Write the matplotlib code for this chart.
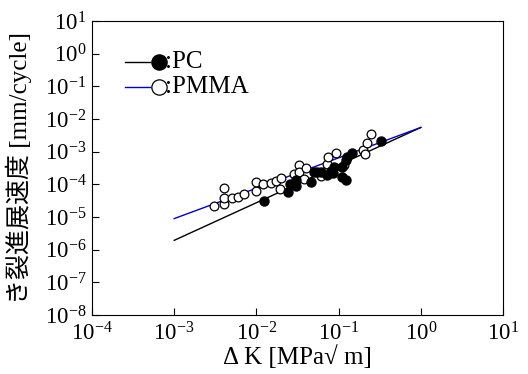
import numpy as np
import matplotlib
matplotlib.use("Agg")
import matplotlib.pyplot as plt
from matplotlib.ticker import FixedLocator, FuncFormatter, NullLocator

plt.rcParams['font.family'] = ['Liberation Serif', 'Noto Sans CJK JP']
plt.rcParams['mathtext.fontset'] = 'custom'
plt.rcParams['mathtext.rm'] = 'Liberation Serif'
plt.rcParams['mathtext.it'] = 'Liberation Serif:italic'

# PC (filled) data: dK [MPa m^0.5], da/dN [mm/cycle]
pc_dk = [0.0125, 0.0241, 0.0255, 0.0299, 0.0299, 0.0465, 0.050, 0.055, 0.0603,
         0.0715, 0.0851, 0.0877, 0.111, 0.122, 0.111, 0.122, 0.147, 0.128,
         0.080, 0.325]
pc_rate = [3.08e-5, 5.8e-5, 1.05e-4, 9.1e-5, 1.39e-4, 1.18e-4, 2.38e-4, 2.38e-4, 2.38e-4,
           1.89e-4, 2.22e-4, 3.4e-4, 1.67e-4, 1.33e-4, 3.4e-4, 5.45e-4, 9.1e-4, 6.9e-4,
           2.6e-4, 2.13e-3]

# PMMA (open) data
pmma_dk = [0.00301, 0.00399, 0.00399, 0.00399, 0.00506, 0.00598, 0.0070, 0.0100,
           0.0100, 0.0119, 0.0151, 0.0171, 0.0200, 0.0192, 0.0290, 0.0328, 0.0328,
           0.0396, 0.0378, 0.0603, 0.0693, 0.0728, 0.0748, 0.0938, 0.116, 0.200,
           0.210, 0.224, 0.245]
pmma_rate = [2.16e-5, 2.56e-5, 3.8e-5, 7.7e-5, 3.9e-5, 4.0e-5, 4.9e-5, 6.1e-5,
             1.18e-4, 1.0e-4, 1.10e-4, 1.30e-4, 1.56e-4, 7.4e-5, 2.13e-4, 3.83e-4, 2.38e-4,
             3.16e-4, 1.50e-4, 1.76e-4, 2.56e-4, 4.3e-4, 6.9e-4, 9.4e-4, 3.83e-4, 1.16e-3,
             8.3e-4, 1.85e-3, 3.42e-3]

# Paris law fits: rate = C * dK^m, drawn from dK=1e-3 to 1
fit_range = [1e-3, 1.0]
pc_C, pc_m = 5.5e-3, 1.152
pmma_C, pmma_m = 5.5e-3, 0.930

fig = plt.figure(figsize=(5.28, 3.74), dpi=100)
ax = fig.add_axes([0.1742, 0.1578, 0.7785, 0.7861])

k = np.array(fit_range)
ax.plot(k, pc_C * k ** pc_m, color='black', linewidth=1)
ax.plot(k, pmma_C * k ** pmma_m, color='#0000cc', linewidth=1)

ax.plot(pmma_dk, pmma_rate, 'o', markersize=6.3, markerfacecolor='white',
        markeredgecolor='black', markeredgewidth=0.9, linestyle='none', zorder=3)
ax.plot(pc_dk, pc_rate, 'o', markersize=6.5, markerfacecolor='black',
        markeredgecolor='black', linestyle='none', zorder=4)

ax.set_xscale('log')
ax.set_yscale('log')
ax.set_xlim(1e-4, 1e1)
ax.set_ylim(1e-8, 1e1)

fmt = FuncFormatter(lambda v, p: r'$\mathregular{10^{%d}}$' % round(np.log10(v)))
ax.xaxis.set_major_locator(FixedLocator([10.0 ** e for e in range(-4, 2)]))
ax.yaxis.set_major_locator(FixedLocator([10.0 ** e for e in range(-8, 2)]))
ax.xaxis.set_minor_locator(NullLocator())
ax.yaxis.set_minor_locator(NullLocator())
ax.xaxis.set_major_formatter(fmt)
ax.yaxis.set_major_formatter(fmt)
ax.tick_params(direction='in', length=5, width=0.8, labelsize=16.5, pad=4)
ax.tick_params(axis='x', pad=5)

ax.set_xlabel('Δ K [MPa√ m]', fontsize=18, labelpad=0)
ax.set_ylabel('き裂進展速度 [mm/cycle]', fontsize=18)
ax.yaxis.set_label_coords(-0.145, 0.5)

# legend drawn by hand: short line, then marker, then label
rows = [(0.862, 'black', 'black', ':PC'), (0.776, '#0000cc', 'white', ':PMMA')]
for y, lc, fc, label in rows:
    ax.plot([0.080, 0.141], [y, y], color=lc, linewidth=1, transform=ax.transAxes)
    ax.plot([0.163], [y], 'o', markersize=11, markerfacecolor=fc,
            markeredgecolor='black', markeredgewidth=0.9, transform=ax.transAxes)
    ax.text(0.177, y, label, fontsize=18, va='center', ha='left', transform=ax.transAxes)

fig.savefig('out.png', dpi=100)
